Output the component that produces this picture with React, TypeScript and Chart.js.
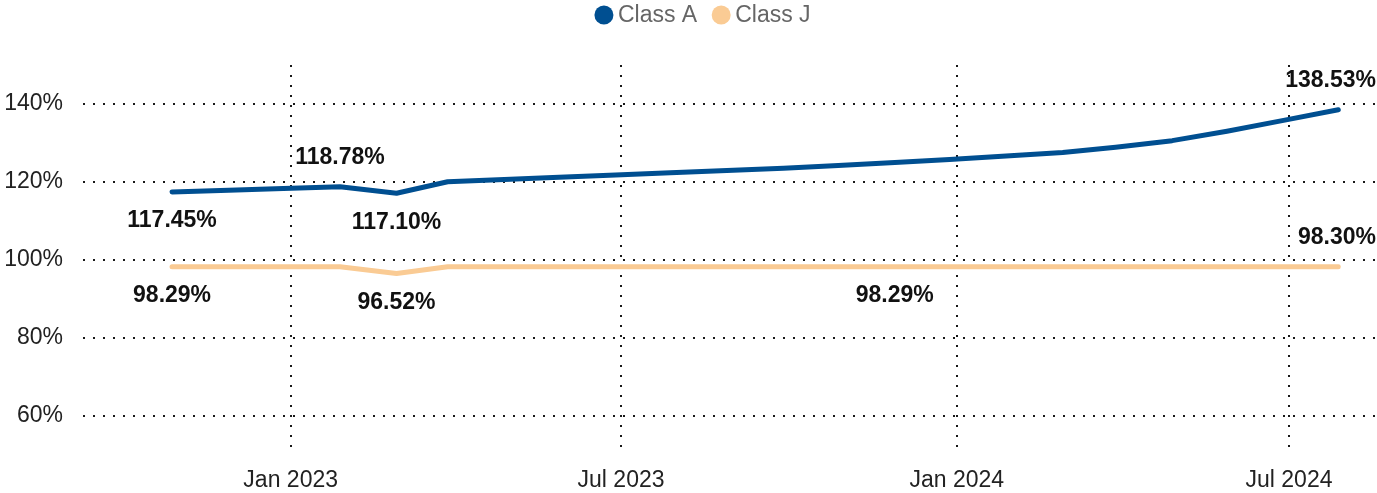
import React, { useEffect, useRef } from 'react';
import { Chart, registerables } from 'chart.js';

Chart.register(...registerables);

const FONT = "'Liberation Sans', Arial, sans-serif";

// Monthly observation dates
const dates = [
  '2022-10-28', '2022-11-28', '2022-12-28', '2023-01-28', '2023-02-28', '2023-03-28',
  '2023-04-28', '2023-05-28', '2023-06-28', '2023-07-28', '2023-08-28', '2023-09-28',
  '2023-10-28', '2023-11-28', '2023-12-28', '2024-01-28', '2024-02-28', '2024-03-28',
  '2024-04-28', '2024-05-28', '2024-06-28', '2024-07-28',
];

const classA = [
  117.45, 117.9, 118.35, 118.78, 117.1, 120.05,
  120.67, 121.24, 121.8, 122.36, 122.94, 123.5,
  124.2, 125.0, 125.8, 126.65, 127.55, 128.9,
  130.6, 133.0, 135.8, 138.53,
];

const classJ = [
  98.29, 98.29, 98.29, 98.29, 96.52, 98.29,
  98.29, 98.29, 98.29, 98.29, 98.29, 98.29,
  98.29, 98.29, 98.29, 98.29, 98.29, 98.29,
  98.29, 98.29, 98.29, 98.3,
];

const seriesNames = ['Class A', 'Class J'];
const seriesColors = ['#004F91', '#FACB94'];

// which points carry a value label, and where
const classALabelIdx = [0, 3, 4, 21];
const classALabelPos = ['below', 'above', 'below', 'above'];
const classJLabelIdx = [0, 4, 13, 21];
const classJLabelPos = ['below', 'below', 'below', 'above'];

const xTickDates = ['2023-01-01', '2023-07-01', '2024-01-01', '2024-07-01'];
const xTickLabels = ['Jan 2023', 'Jul 2023', 'Jan 2024', 'Jul 2024'];
const xRange = ['2022-09-09T05:00:00Z', '2024-08-18T05:00:00Z'];

const yTicks = [60, 80, 100, 120, 140];
const yRange = [50, 150];

const labelSpecs = [
  { idx: classALabelIdx, pos: classALabelPos },
  { idx: classJLabelIdx, pos: classJLabelPos },
];

const legendPlugin = {
  id: 'customLegend',
  afterDraw(chart: any) {
    const ctx = chart.ctx;
    ctx.save();
    ctx.font = `23px ${FONT}`;
    const items = chart.data.datasets.map((ds: any) => ({
      label: ds.label,
      color: ds.borderColor,
      w: ctx.measureText(ds.label).width,
    }));
    const r = 9.5;
    const gapText = 4.5;
    const gapItem = 14.5;
    const total =
      items.reduce((s: number, it: any) => s + 2 * r + gapText + it.w, 0) +
      gapItem * (items.length - 1);
    let x = (chart.width - total) / 2 + 14;
    const y = 15;
    items.forEach((it: any) => {
      ctx.fillStyle = it.color;
      ctx.beginPath();
      ctx.arc(x + r, y, r, 0, Math.PI * 2);
      ctx.fill();
      ctx.fillStyle = '#666666';
      ctx.textAlign = 'left';
      ctx.textBaseline = 'middle';
      ctx.fillText(it.label, x + 2 * r + gapText, y + 1);
      x += 2 * r + gapText + it.w + gapItem;
    });
    ctx.restore();
  },
};

const pointLabelPlugin = {
  id: 'pointLabels',
  afterDatasetsDraw(chart: any) {
    const ctx = chart.ctx;
    ctx.save();
    ctx.font = `bold 23px ${FONT}`;
    ctx.fillStyle = '#111111';
    ctx.textAlign = 'center';
    ctx.textBaseline = 'middle';
    chart.data.datasets.forEach((ds: any, di: number) => {
      const meta = chart.getDatasetMeta(di);
      const spec = labelSpecs[di];
      spec.idx.forEach((i: number, k: number) => {
        const pt = meta.data[i];
        if (!pt) return;
        const text = ds.data[i].y.toFixed(2) + '%';
        const w = ctx.measureText(text).width;
        let x = pt.x;
        x = Math.min(x, chart.width - 1 - w / 2);
        x = Math.max(x, 1 + w / 2);
        const y = pt.y + (spec.pos[k] === 'above' ? -29 : 29);
        ctx.fillText(text, x, y);
      });
    });
    ctx.restore();
  },
};

export default function App() {
  const canvasRef = useRef<HTMLCanvasElement | null>(null);

  useEffect(() => {
    document.body.style.margin = '0';
    const canvas = canvasRef.current;
    if (!canvas) return;
    const xs = dates.map((d) => Date.parse(d));
    const tickVals = xTickDates.map((d) => Date.parse(d));
    const gridColor = 'rgba(0,0,0,0.9)';

    const chart = new Chart(canvas, {
      type: 'line',
      data: {
        datasets: [
          {
            label: seriesNames[0],
            data: xs.map((x, i) => ({ x, y: classA[i] })),
            borderColor: seriesColors[0],
            backgroundColor: seriesColors[0],
            borderWidth: 5,
            borderCapStyle: 'round',
            borderJoinStyle: 'round',
            pointRadius: 0,
            tension: 0,
            fill: false,
          },
          {
            label: seriesNames[1],
            data: xs.map((x, i) => ({ x, y: classJ[i] })),
            borderColor: seriesColors[1],
            backgroundColor: seriesColors[1],
            borderWidth: 5,
            borderCapStyle: 'round',
            borderJoinStyle: 'round',
            pointRadius: 0,
            tension: 0,
            fill: false,
          },
        ],
      },
      options: {
        animation: false,
        responsive: false,
        maintainAspectRatio: false,
        layout: { padding: { top: 65, left: 4, right: 0, bottom: 0 } },
        plugins: {
          legend: { display: false },
          tooltip: { enabled: false },
        },
        scales: {
          x: {
            type: 'linear',
            min: Date.parse(xRange[0]),
            max: Date.parse(xRange[1]),
            afterBuildTicks: (axis: any) => {
              axis.ticks = tickVals.map((v) => ({ value: v }));
            },
            afterFit: (axis: any) => {
              axis.paddingLeft = 0;
              axis.paddingRight = 0;
              axis.paddingTop = 0;
              axis.paddingBottom = 0;
              axis.height = 38;
            },
            ticks: {
              autoSkip: false,
              maxRotation: 0,
              padding: 12,
              color: '#222222',
              font: { family: FONT, size: 23 },
              callback: (_v: any, i: number) => xTickLabels[i],
            },
            grid: { color: gridColor, lineWidth: 2, drawTicks: false },
            border: { display: false, dash: [2, 8] },
          },
          y: {
            min: yRange[0],
            max: yRange[1],
            afterBuildTicks: (axis: any) => {
              axis.ticks = yTicks.map((v) => ({ value: v }));
            },
            afterFit: (axis: any) => {
              axis.paddingLeft = 0;
              axis.paddingRight = 0;
              axis.paddingTop = 0;
              axis.paddingBottom = 0;
              axis.width = 79;
            },
            ticks: {
              padding: 20,
              color: '#222222',
              font: { family: FONT, size: 23 },
              callback: (v: any) => v + '%',
            },
            grid: { color: gridColor, lineWidth: 2, drawTicks: false },
            border: { display: false, dash: [2, 8] },
          },
        },
      },
      plugins: [pointLabelPlugin, legendPlugin],
    } as any);

    return () => chart.destroy();
  }, []);

  return (
    <div style={{ width: 1377, height: 493 }}>
      <canvas ref={canvasRef} width={1377} height={493} style={{ display: 'block', width: 1377, height: 493 }} />
    </div>
  );
}
